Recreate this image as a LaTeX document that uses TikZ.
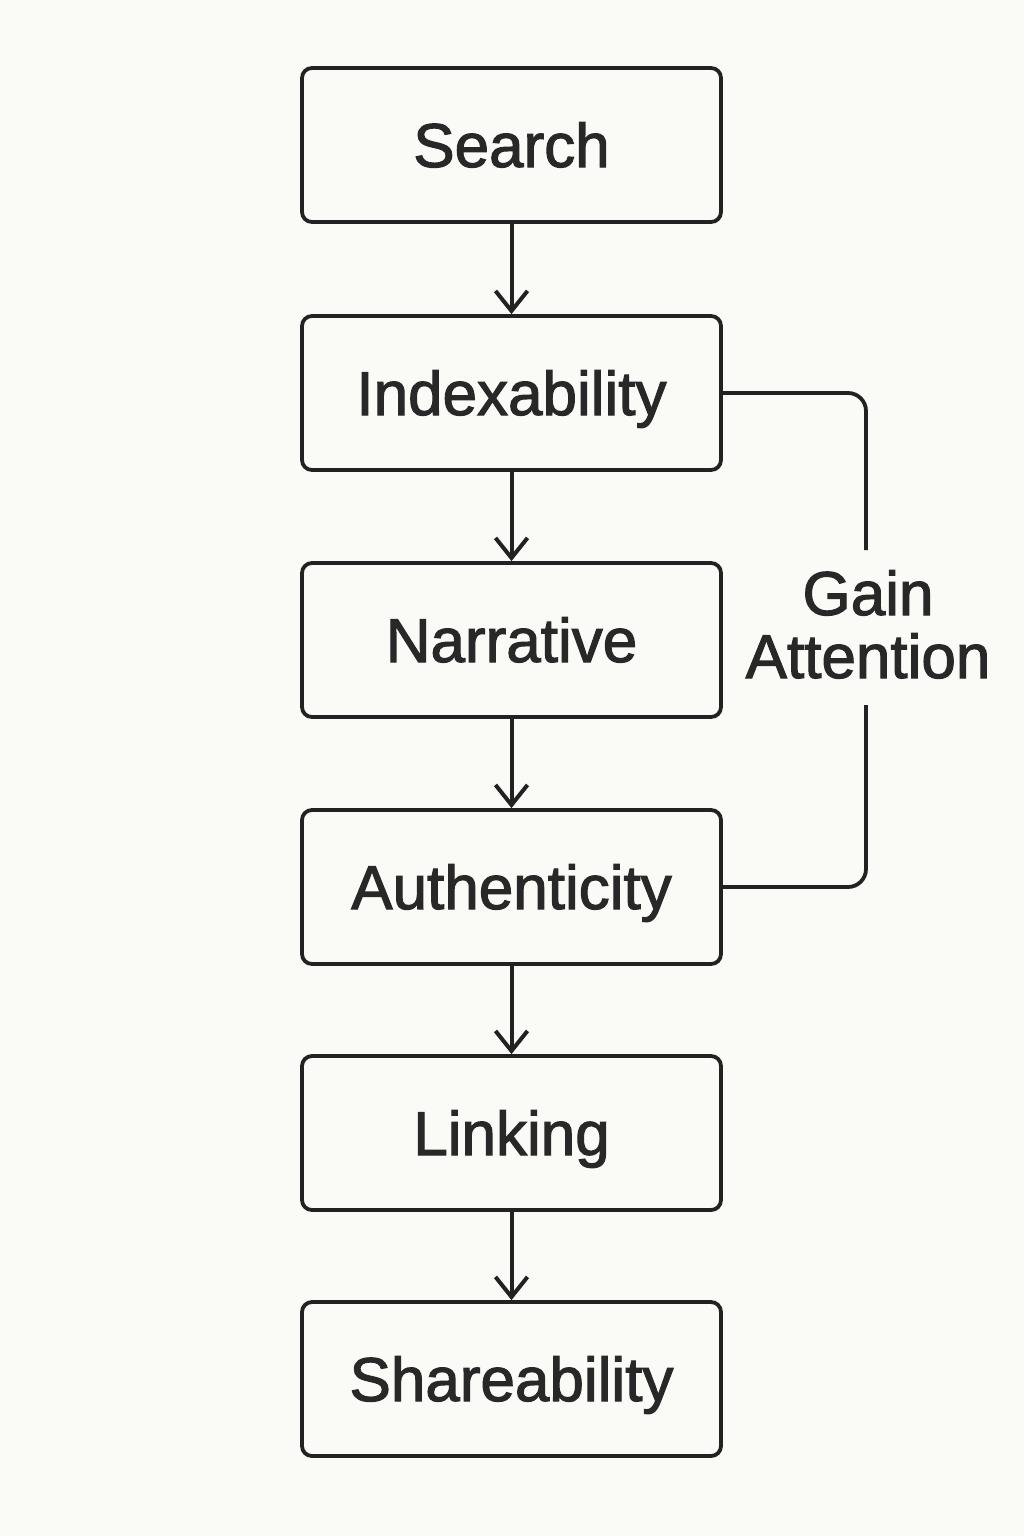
\documentclass[tikz,border=0pt]{standalone}
\usepackage{fontspec}
\setmainfont{Liberation Sans}
\newfontfamily\medfont{Liberation Sans}[FakeBold=1.8]
\usetikzlibrary{arrows.meta}
\definecolor{bg}{RGB}{250,250,246}
\definecolor{ink}{RGB}{34,34,34}
\definecolor{txt}{RGB}{40,40,40}
\tikzset{
  stepbox/.style={draw=ink, line width=3.8pt, rounded corners=10pt,
    minimum width=419pt, minimum height=154pt, inner sep=0pt,
    text height=44pt, text depth=0pt, text=txt,
    font=\medfont\fontsize{62}{63}\selectfont},
  flow/.style={draw=ink, line width=4pt,
    -{Straight Barb[length=20pt,width=32pt,line width=4pt]}},
  bracket/.style={draw=ink, line width=3.8pt, rounded corners=18pt},
  lbl/.style={text=txt, align=center, inner sep=0pt,
    font=\medfont\fontsize{62}{63}\selectfont}
}
\begin{document}
\begin{tikzpicture}[x=1pt,y=-1pt]
\fill[bg] (0,0) rectangle (1024,1536);
\useasboundingbox (0,0) rectangle (1024,1536);
\node[stepbox] (search) at (511.5,145) {Search};
\node[stepbox] (idx) at (511.5,393) {Indexability};
\node[stepbox] (narr) at (511.5,640) {Narrative};
\node[stepbox] (auth) at (511.5,887) {Authenticity};
\node[stepbox] (link) at (511.5,1133) {Linking};
\node[stepbox] (share) at (511.5,1379) {Shareability};
\draw[flow] (search) -- (idx);
\draw[flow] (idx) -- (narr);
\draw[flow] (narr) -- (auth);
\draw[flow] (auth) -- (link);
\draw[flow] (link) -- (share);
\node[lbl, anchor=base] (gain) at (868,678) {Gain\\Attention};
\coordinate (gtop) at (866,550);
\coordinate (gbot) at (866,705);
\draw[bracket] (idx.east) -| (gtop);
\draw[bracket] (gbot) |- (auth.east);
\end{tikzpicture}
\end{document}
